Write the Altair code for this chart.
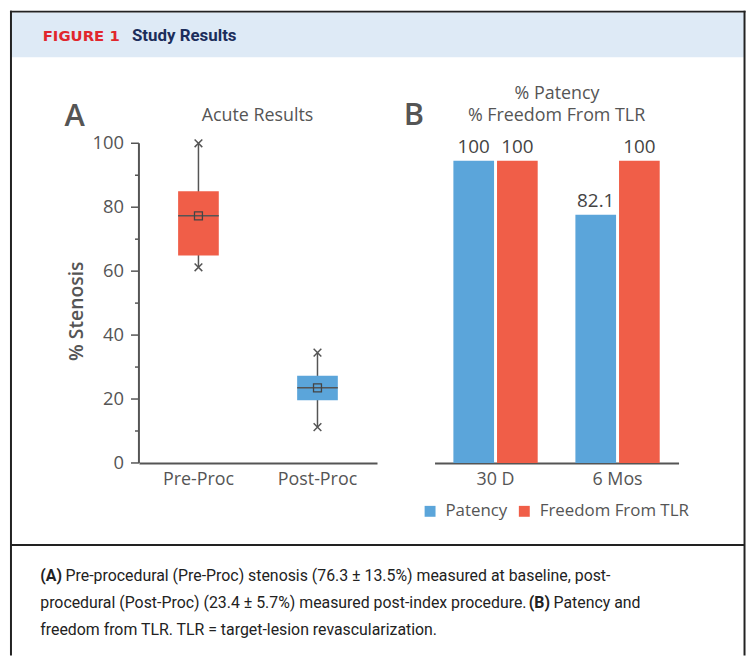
import altair as alt
import pandas as pd

# ---------------- data ----------------
# Panel A: box-plot statistics (% stenosis)
groups = ["Pre-Proc", "Post-Proc"]
whisker_min = [61.2, 11.2]
q1 = [64.9, 19.6]
median = [77.3, 23.5]
q3 = [85.0, 27.3]
whisker_max = [100.0, 34.5]
mean = [77.3, 23.5]
y_domain = [0, 100]
major_ticks = [0, 20, 40, 60, 80, 100]
minor_ticks = [10, 30, 50, 70, 90]

# Panel B: grouped bars
timepoints = ["30 D", "6 Mos"]
measures = ["Patency", "Freedom From TLR"]
bar_time = ["30 D", "30 D", "6 Mos", "6 Mos"]
bar_measure = ["Patency", "Freedom From TLR", "Patency", "Freedom From TLR"]
bar_value = [100, 100, 82.1, 100]

# texts
header_label = "FIGURE 1"
header_title = "Study Results"
title_a = "Acute Results"
title_b = ["% Patency", "% Freedom From TLR"]
y_title = "% Stenosis"
cap1_bold = "(A)"
cap1 = "Pre-procedural (Pre-Proc) stenosis (76.3 \u00b1 13.5%) measured at baseline, post-"
cap2 = "procedural (Post-Proc) (23.4 \u00b1 5.7%) measured post-index procedure."
cap2_bold = "(B)"
cap2_end = "Patency and"
cap3 = "freedom from TLR. TLR = target-lesion revascularization."

# ---------------- styles ----------------
FONT = "Open Sans"
CAPFONT = "Roboto"
CAPSIZE = 16
RED = "#f05e48"
BLUE = "#5ba5da"
GRAY = "#555555"
FRAME = "#222222"
TEXTC = "#222222"

dfA = pd.DataFrame({"group": groups, "wmin": whisker_min, "q1": q1, "median": median,
                    "q3": q3, "wmax": whisker_max, "mean": mean})
dfDom = pd.DataFrame({"lo": [y_domain[0]], "hi": [y_domain[1]]})
dfMajor = pd.DataFrame({"v": major_ticks})
dfMinor = pd.DataFrame({"v": minor_ticks})
dfB = pd.DataFrame({"time": bar_time, "measure": bar_measure, "value": bar_value})
one = pd.DataFrame({"k": [0]})

# ---------------- panel A ----------------
xA = alt.X("group:N", sort=groups,
           scale=alt.Scale(domain=groups, range=[0, 240], paddingInner=0, paddingOuter=0),
           axis=alt.Axis(orient="bottom", title=None, ticks=False, labelAngle=0,
                         labelFont=FONT, labelFontSize=18, labelColor=GRAY, labelPadding=8,
                         domainColor=GRAY, domainWidth=2))
yscaleA = alt.Scale(domain=y_domain, range=[456, 133.7], nice=False, zero=False)

# y axis of panel A, drawn from the y scale
ydom = alt.Chart(dfDom).mark_rule(color=GRAY, strokeWidth=2).encode(
    x=alt.value(0), y=alt.Y("lo:Q", scale=yscaleA, axis=None), y2="hi:Q")
ymajor = alt.Chart(dfMajor).mark_rule(color=GRAY, strokeWidth=1.5).encode(
    y=alt.Y("v:Q", scale=yscaleA, axis=None), x=alt.value(-8), x2=alt.value(0))
yminor = alt.Chart(dfMinor).mark_rule(color=GRAY, strokeWidth=1.5).encode(
    y=alt.Y("v:Q", scale=yscaleA, axis=None), x=alt.value(-4), x2=alt.value(0))
ylabels = alt.Chart(dfMajor).mark_text(align="right", baseline="middle", font=FONT,
                                       fontSize=18.5, color=GRAY).encode(
    y=alt.Y("v:Q", scale=yscaleA, axis=None), x=alt.value(-15), text=alt.Text("v:Q"))

whisk = alt.Chart(dfA).mark_rule(color=GRAY, strokeWidth=1.5).encode(
    x=xA, y=alt.Y("wmin:Q", scale=yscaleA, axis=None), y2="wmax:Q")
box = alt.Chart(dfA).mark_bar(size=41).encode(
    x=xA, y=alt.Y("q1:Q", scale=yscaleA, axis=None), y2="q3:Q",
    color=alt.Color("group:N", scale=alt.Scale(domain=groups, range=[RED, BLUE]), legend=None))
med = alt.Chart(dfA).mark_tick(color=GRAY, size=41, thickness=1.5, opacity=1).encode(
    x=xA, y=alt.Y("median:Q", scale=yscaleA, axis=None))
avg = alt.Chart(dfA).mark_point(shape="square", filled=False, size=64, color="#444444",
                                strokeWidth=1.3, opacity=1).encode(
    x=xA, y=alt.Y("mean:Q", scale=yscaleA, axis=None))
XSHAPE = "M-1,-1L1,1M-1,1L1,-1"
cmin = alt.Chart(dfA).mark_point(shape=XSHAPE, filled=False, size=60, color=GRAY,
                                 strokeWidth=1.5, opacity=1).encode(
    x=xA, y=alt.Y("wmin:Q", scale=yscaleA, axis=None))
cmax = alt.Chart(dfA).mark_point(shape=XSHAPE, filled=False, size=60, color=GRAY,
                                 strokeWidth=1.5, opacity=1).encode(
    x=xA, y=alt.Y("wmax:Q", scale=yscaleA, axis=None))
panelA = alt.layer(whisk, box, med, avg, cmin, cmax, ydom, ymajor, yminor, ylabels)

# ---------------- panel B ----------------
xB = alt.X("time:N", sort=timepoints,
           scale=alt.Scale(domain=timepoints, range=[298, 544], paddingInner=0.309, paddingOuter=0.1545),
           axis=alt.Axis(orient="bottom", title=None, ticks=False, labelAngle=0,
                         labelFont=FONT, labelFontSize=18, labelColor=GRAY, labelPadding=8,
                         domainColor=GRAY, domainWidth=2))
xoB = alt.XOffset("measure:N", sort=measures,
                  scale=alt.Scale(domain=measures, paddingInner=0.068, paddingOuter=0))
yB = alt.Y("value:Q", scale=alt.Scale(domain=[0, 100], range=[456, 151.3], nice=False), axis=None)
bars = alt.Chart().mark_bar().encode(
    x=xB, xOffset=xoB, y=yB,
    color=alt.Color("measure:N", scale=alt.Scale(domain=measures, range=[BLUE, RED]),
                    legend=alt.Legend(orient="none", legendX=285, legendY=496, direction="horizontal",
                                      title=None, symbolType="square", symbolSize=121,
                                      symbolStrokeWidth=0, labelFont=FONT, labelFontSize=17,
                                      labelColor=GRAY, labelOffset=7, columnPadding=8, padding=0)))
labels = alt.Chart().mark_text(dy=-8, baseline="alphabetic", font=FONT, fontSize=19,
                               color="#444444").encode(
    x=xB, xOffset=xoB, y=yB, text=alt.Text("value:Q"))
panelB = alt.layer(bars, labels, data=dfB)


# ---------------- decoration ----------------
def txt(s, x, y, **kw):
    return alt.Chart(one).mark_text(**kw).encode(x=alt.value(x), y=alt.value(y), text=alt.value(s))


def hrule(x1, x2, y, **kw):
    return alt.Chart(one).mark_rule(**kw).encode(x=alt.value(x1), x2=alt.value(x2), y=alt.value(y))


def vrule(x, y1, y2, **kw):
    return alt.Chart(one).mark_rule(**kw).encode(x=alt.value(x), y=alt.value(y1), y2=alt.value(y2))


band = alt.Chart(one).mark_rect(color="#deeaf6").encode(
    x=alt.value(-129), x2=alt.value(610), y=alt.value(2), y2=alt.value(47))
frame = [
    hrule(-130, 611.5, 1, color=FRAME, strokeWidth=2),
    vrule(-129, 0, 650, color=FRAME, strokeWidth=2),
    vrule(610.5, 0, 650, color=FRAME, strokeWidth=2),
    hrule(-129, 610.5, 538.7, color=FRAME, strokeWidth=2),
]
texts = [
    txt(header_label, -97, 31, align="left", baseline="alphabetic", font="DejaVu Sans",
        fontSize=15, fontWeight="bold", color="#e1262d"),
    txt(header_title, -7, 31, align="left", baseline="alphabetic", font=CAPFONT,
        fontSize=17, fontWeight="bold", color="#1b2d5b"),
    txt("A", -75, 116, align="left", baseline="alphabetic", font=FONT, fontSize=31,
        fontWeight=600, color=GRAY),
    txt("B", 267, 115.3, align="left", baseline="alphabetic", font=FONT, fontSize=31,
        fontWeight=600, color=GRAY),
    txt(title_a, 119.5, 111.3, align="center", baseline="alphabetic", font=FONT,
        fontSize=18, color=GRAY),
    txt(title_b[0], 421.5, 89.3, align="center", baseline="alphabetic", font=FONT,
        fontSize=18, color=GRAY),
    txt(title_b[1], 421, 111.3, align="center", baseline="alphabetic", font=FONT,
        fontSize=18, color=GRAY),
    txt(y_title, -56.5, 303, align="center", baseline="alphabetic", angle=270, font=FONT,
        fontSize=19.5, fontWeight=600, color=GRAY),
    txt(cap1_bold, -99.5, 575, align="left", baseline="alphabetic", font=CAPFONT,
        fontSize=CAPSIZE, fontWeight="bold", color=TEXTC),
    txt(cap1, -74, 575, align="left", baseline="alphabetic", font=CAPFONT,
        fontSize=CAPSIZE, color=TEXTC),
    txt(cap2, -99.5, 602, align="left", baseline="alphabetic", font=CAPFONT,
        fontSize=CAPSIZE, color=TEXTC),
    txt(cap2_bold, 393, 602, align="left", baseline="alphabetic", font=CAPFONT,
        fontSize=CAPSIZE, fontWeight="bold", color=TEXTC),
    txt(cap2_end, 418, 602, align="left", baseline="alphabetic", font=CAPFONT,
        fontSize=CAPSIZE, color=TEXTC),
    txt(cap3, -99.5, 629, align="left", baseline="alphabetic", font=CAPFONT,
        fontSize=CAPSIZE, color=TEXTC),
]

chart = alt.layer(band, *frame, *texts, panelA, panelB).resolve_scale(
    x="independent", y="independent", color="independent"
).properties(
    width=613, height=456,
    padding={"left": 132, "top": 0, "right": 0, "bottom": 199},
    autosize=alt.AutoSizeParams(type="none"),
).configure_view(stroke="transparent")

chart.save("out.html", embed_options={"renderer": "svg", "actions": False})
